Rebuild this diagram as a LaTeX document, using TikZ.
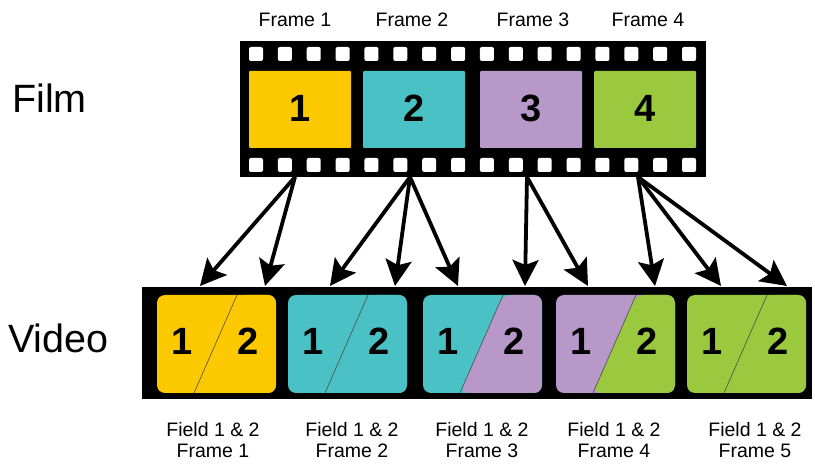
\documentclass[tikz,border=0pt]{standalone}
\usepackage{fontspec}
\setmainfont{Liberation Sans}
\usetikzlibrary{arrows.meta,calc}
\definecolor{fyellow}{HTML}{FCC800}
\definecolor{fteal}{HTML}{4AC1C4}
\definecolor{fpurple}{HTML}{B798C9}
\definecolor{fgreen}{HTML}{9AC83E}
\begin{document}
\begin{tikzpicture}[x=1pt,y=-1pt,
  filmframe/.style={rectangle, minimum width=102pt, minimum height=77pt, inner sep=0pt, rounded corners=1pt},
  vbox/.style={rectangle, minimum width=119pt, minimum height=98pt, inner sep=0pt, rounded corners=8pt},
  splitline/.style={draw=black!70, line width=0.6pt},
  split/.style 2 args={fill=#1, path picture={
      \fill[#2] ($(path picture bounding box.north west)+(80,0)$) -- (path picture bounding box.north east)
        -- (path picture bounding box.south east) -- ($(path picture bounding box.south west)+(37,0)$) -- cycle;
      \draw[splitline] ($(path picture bounding box.north west)+(80,0)$) -- ($(path picture bounding box.south west)+(37,0)$);}},
  digit/.style={font=\bfseries\fontsize{38}{38}\selectfont, anchor=base, inner sep=0pt},
  bigword/.style={font=\fontsize{39.5}{40}\selectfont, anchor=base west, inner sep=0pt},
  framelabel/.style={font=\fontsize{19.5}{20}\selectfont, inner sep=0pt},
  fieldlabel/.style={font=\fontsize{19.5}{21}\selectfont, align=center, inner sep=0pt},
  hole/.style={fill=white, rounded corners=2pt},
  conn/.style={line width=3.8pt, -{Stealth[length=26pt,width=26pt,inset=5pt]}}]
\useasboundingbox (0,0) rectangle (815,465);

% side labels
\node[bigword] (filmlbl) at (12,113) {Film};
\node[bigword] (videolbl) at (8,353) {Video};

% film strip with sprocket holes
\node[fill=black, minimum width=466pt, minimum height=136pt, inner sep=0pt] (strip) at (473,109) {};
\foreach \i in {0,...,15} {
  \fill[hole] ({249+\i*28.87},47) rectangle ++(14,14);
  \fill[hole] ({249+\i*28.87},158) rectangle ++(14,14);
}

% film frames
\node[filmframe, fill=fyellow] (f1) at (300,109.5) {};
\node[filmframe, fill=fteal]   (f2) at (414,109.5) {};
\node[filmframe, fill=fpurple] (f3) at (531,109.5) {};
\node[filmframe, fill=fgreen]  (f4) at (645,109.5) {};
\node[digit] (f1n) at (300,122) {1};
\node[digit] (f2n) at (414,122) {2};
\node[digit] (f3n) at (531,122) {3};
\node[digit] (f4n) at (645,122) {4};

% frame captions
\node[framelabel] (fl1) at (295,20) {Frame 1};
\node[framelabel] (fl2) at (412,20) {Frame 2};
\node[framelabel] (fl3) at (533,20) {Frame 3};
\node[framelabel] (fl4) at (648,20) {Frame 4};

% video strip
\node[fill=black, minimum width=670pt, minimum height=112pt, inner sep=0pt] (vstrip) at (477,343) {};
\node[vbox, split={fyellow}{fyellow}] (v1) at (216.5,344) {};
\node[vbox, split={fteal}{fteal}]     (v2) at (347.5,344) {};
\node[vbox, split={fteal}{fpurple}]   (v3) at (482.5,344) {};
\node[vbox, split={fpurple}{fgreen}]  (v4) at (615.5,344) {};
\node[vbox, split={fgreen}{fgreen}]   (v5) at (746.5,344) {};
\foreach \v/\x in {1/157,2/288,3/423,4/556,5/687} {
  \node[digit] (v\v a) at ({\x+25},355) {1};
  \node[digit] (v\v b) at ({\x+91},355) {2};
}

% field captions
\node[fieldlabel] (c1) at (213,440) {Field 1 \& 2\\Frame 1};
\node[fieldlabel] (c2) at (352,440) {Field 1 \& 2\\Frame 2};
\node[fieldlabel] (c3) at (482,440) {Field 1 \& 2\\Frame 3};
\node[fieldlabel] (c4) at (614,440) {Field 1 \& 2\\Frame 4};
\node[fieldlabel] (c5) at (755,440) {Field 1 \& 2\\Frame 5};

% pulldown connectors
\coordinate (s1) at (295,177);
\coordinate (s2) at (410,177);
\coordinate (s3) at (527,177);
\coordinate (s4) at (638,177);
\foreach \t/\x in {1/200,2/265,3/330,4/395,5/458,6/525,7/588,8/655,9/721,10/787}
  \coordinate (t\t) at (\x,286);
\draw[conn] (s1) -- (t1);
\draw[conn] (s1) -- (t2);
\draw[conn] (s2) -- (t3);
\draw[conn] (s2) -- (t4);
\draw[conn] (s2) -- (t5);
\draw[conn] (s3) -- (t6);
\draw[conn] (s3) -- (t7);
\draw[conn] (s4) -- (t8);
\draw[conn] (s4) -- (t9);
\draw[conn] (s4) -- (t10);
\end{tikzpicture}
\end{document}
